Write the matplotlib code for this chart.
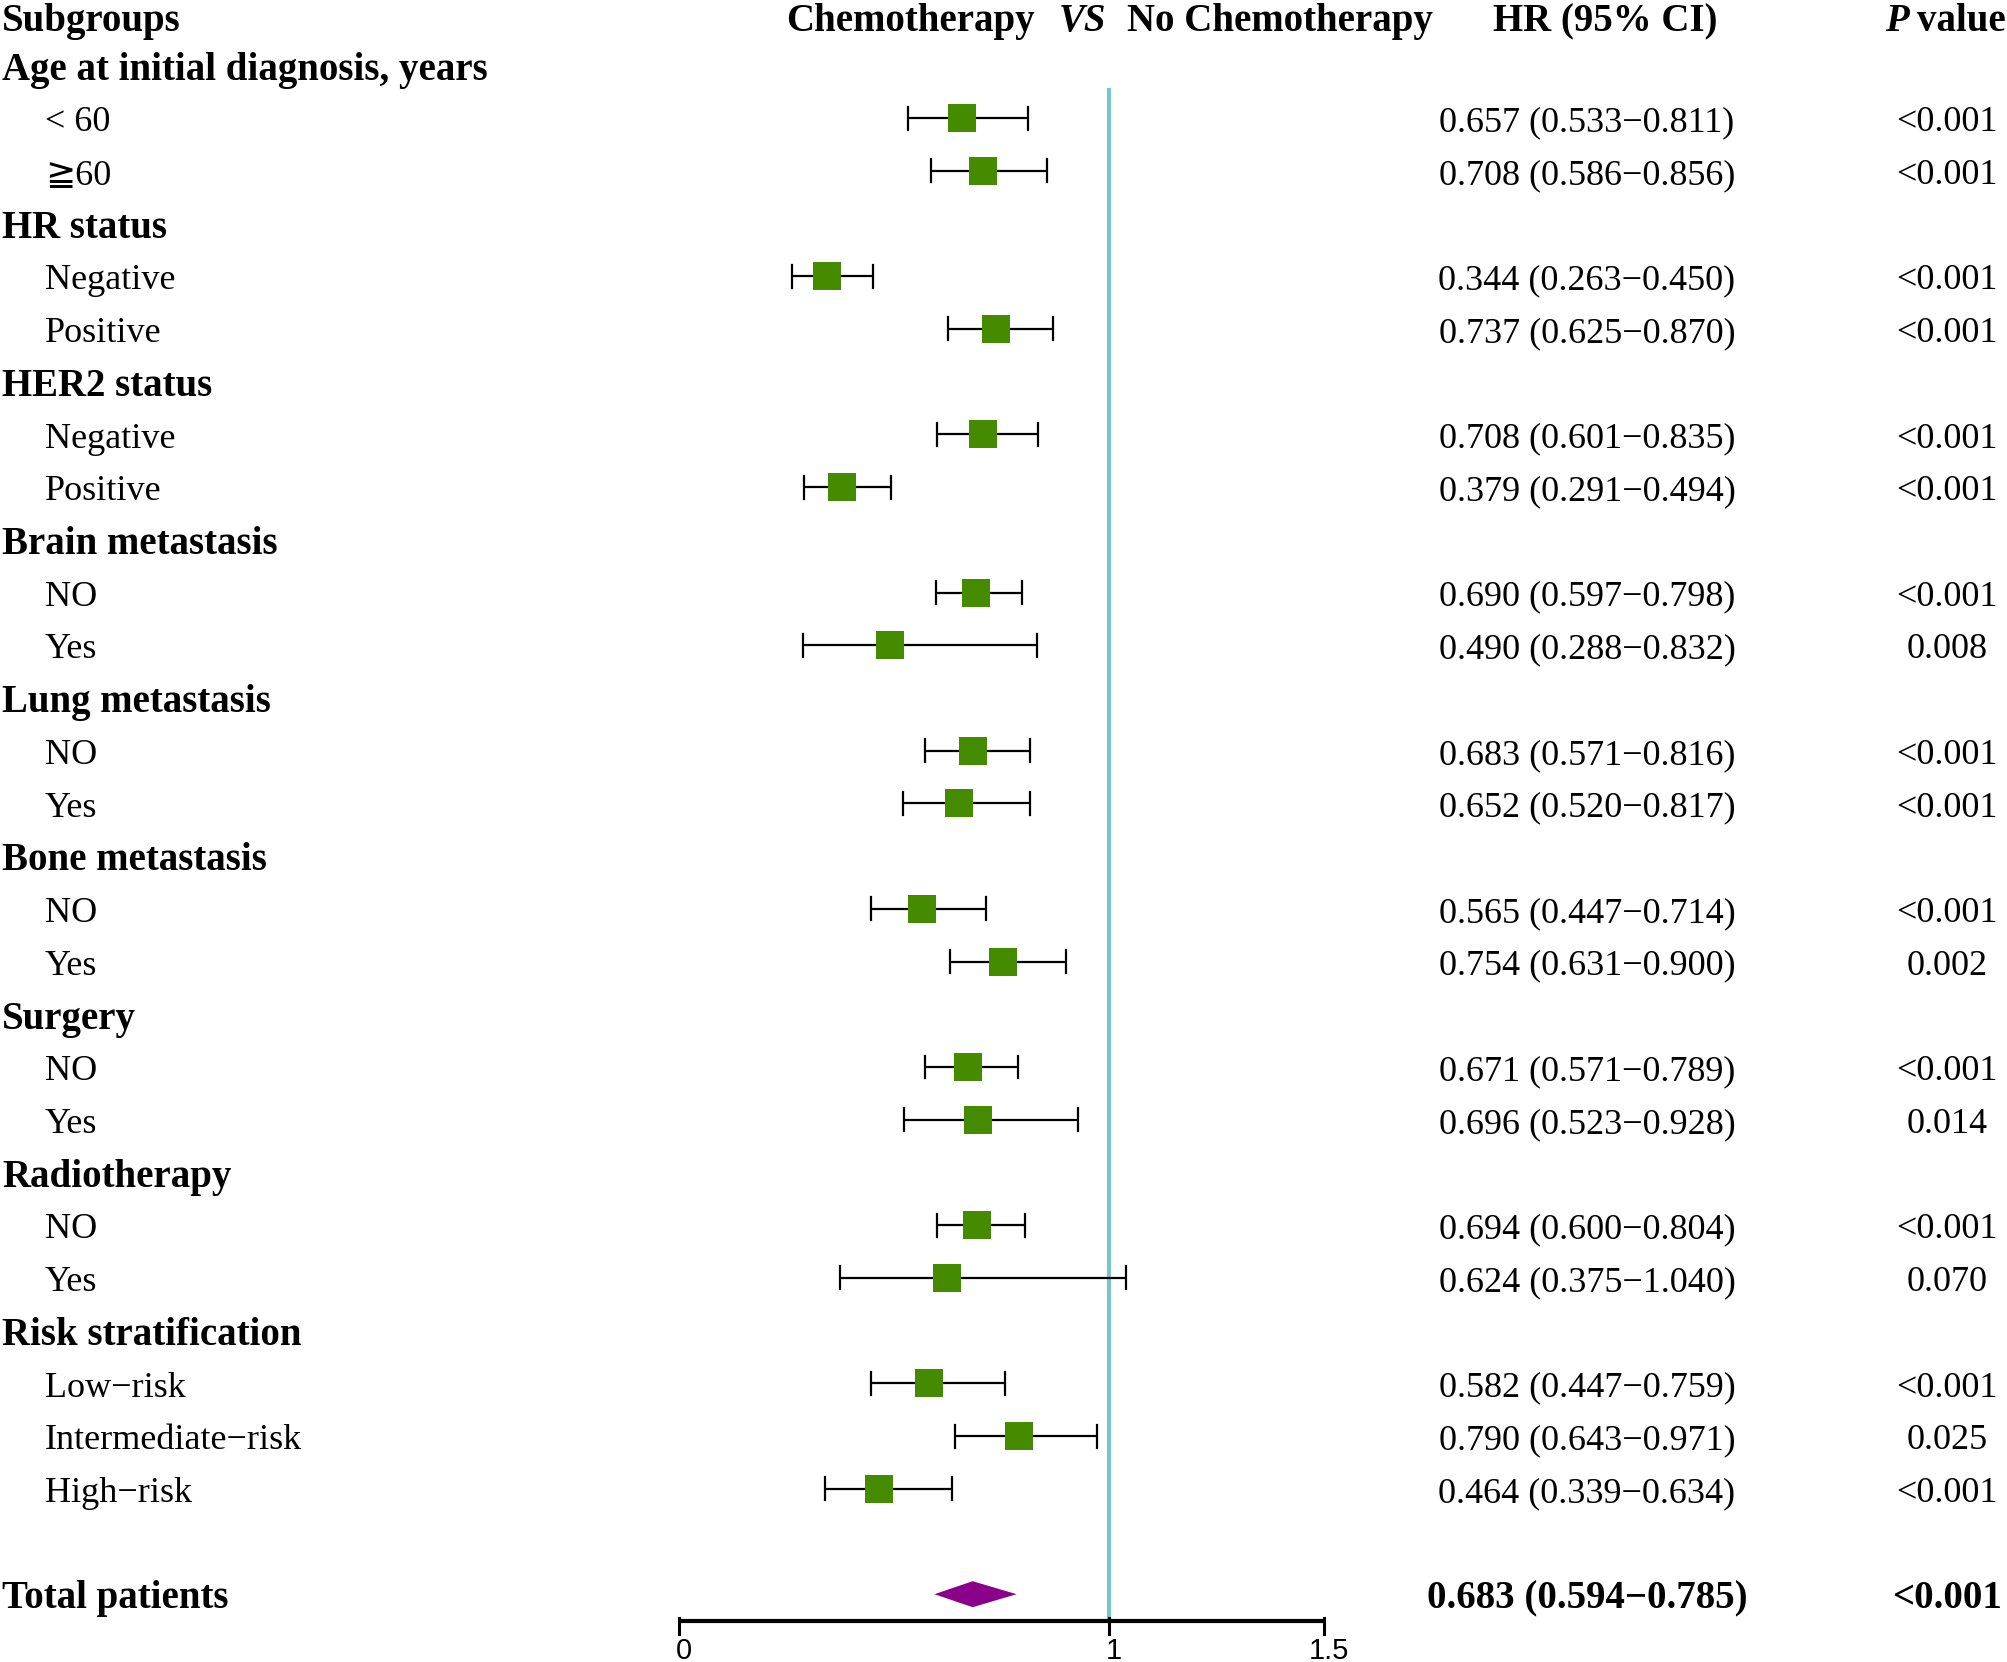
import numpy as np
import matplotlib
matplotlib.use('Agg')
import matplotlib.pyplot as plt
from matplotlib.patches import Rectangle, Polygon
from matplotlib.transforms import blended_transform_factory

# rows of the table, top to bottom (header excluded)
groups = ['Age at initial diagnosis, years', 'HR status', 'HER2 status',
          'Brain metastasis', 'Lung metastasis', 'Bone metastasis',
          'Surgery', 'Radiotherapy', 'Risk stratification']
subgroups = [['< 60', '\u226760'],
             ['Negative', 'Positive'],
             ['Negative', 'Positive'],
             ['NO', 'Yes'],
             ['NO', 'Yes'],
             ['NO', 'Yes'],
             ['NO', 'Yes'],
             ['NO', 'Yes'],
             ['Low\u2212risk', 'Intermediate\u2212risk', 'High\u2212risk']]

hr = [0.657, 0.708, 0.344, 0.737, 0.708, 0.379, 0.690, 0.490, 0.683, 0.652,
      0.565, 0.754, 0.671, 0.696, 0.694, 0.624, 0.582, 0.790, 0.464]
lo = [0.533, 0.586, 0.263, 0.625, 0.601, 0.291, 0.597, 0.288, 0.571, 0.520,
      0.447, 0.631, 0.571, 0.523, 0.600, 0.375, 0.447, 0.643, 0.339]
hi = [0.811, 0.856, 0.450, 0.870, 0.835, 0.494, 0.798, 0.832, 0.816, 0.817,
      0.714, 0.900, 0.789, 0.928, 0.804, 1.040, 0.759, 0.971, 0.634]
pvals = ['<0.001', '<0.001', '<0.001', '<0.001', '<0.001', '<0.001', '<0.001',
         '0.008', '<0.001', '<0.001', '<0.001', '0.002', '<0.001', '0.014',
         '<0.001', '0.070', '<0.001', '0.025', '<0.001']

total_hr, total_lo, total_hi = 0.683, 0.594, 0.785
total_p = '<0.001'
xticks = [0, 1, 1.5]

W, H = 2008, 1662
GREEN = '#458B00'
PURPLE = '#8B008B'
BLUE = '#7AC5CD'
SERIF = ['Liberation Serif', 'DejaVu Serif', 'DejaVu Sans']

fig = plt.figure(figsize=(W / 100, H / 100), dpi=100)
ax = fig.add_axes([0, 0, 1, 1])
# pixel geometry: x=0 at 679 px, 430 px per unit; row r at 12.6 + 52.72*r px
x0, xs = 679.0, 430.0
y0, ys = 12.6, 52.72
ax.set_xlim(-x0 / xs, (W - x0) / xs)
ax.set_ylim((H - y0) / ys, -y0 / ys)
ax.axis('off')

tr = blended_transform_factory(fig.transFigure, ax.transData)
TXT_SHIFT = 0.09


def put(xpx, row, s, **kw):
    kw.setdefault('family', SERIF)
    kw.setdefault('fontsize', 26)
    kw.setdefault('va', 'center')
    ax.text(xpx / W, row + TXT_SHIFT, s, transform=tr, **kw)


# header
hrow = 0.08
put(2, hrow, 'Subgroups', fontsize=28, weight='bold')
put(1035, hrow, 'Chemotherapy', fontsize=28, weight='bold', ha='right')
put(1082, hrow, 'VS', fontsize=28, weight='bold', style='italic', ha='center')
put(1127, hrow, 'No Chemotherapy', fontsize=28, weight='bold')
put(1605, hrow, 'HR (95% CI)', fontsize=28, weight='bold', ha='center')
put(1909, hrow, 'P', fontsize=28, weight='bold', style='italic', ha='right')
put(1917, hrow, 'value', fontsize=28, weight='bold')

box_w = 28 / xs
box_h = 28 / ys
cap = 11.5 / ys

row = 1
sub_rows = []
for g, subs in zip(groups, subgroups):
    put(2, row, g, fontsize=28, weight='bold')
    row += 1
    for s in subs:
        put(45, row, s)
        sub_rows.append(row)
        row += 1

for r, h, l, u, p in zip(sub_rows, hr, lo, hi, pvals):
    ax.plot([l, u], [r, r], color='black', lw=1.6, solid_capstyle='butt', zorder=2)
    ax.plot([l, l], [r - cap, r + cap], color='black', lw=1.6, zorder=2)
    ax.plot([u, u], [r - cap, r + cap], color='black', lw=1.6, zorder=2)
    ax.add_patch(Rectangle((h - box_w / 2, r - box_h / 2), box_w, box_h,
                           facecolor=GREEN, edgecolor='none', zorder=3))
    put(1587, r, '%.3f (%.3f\u2212%.3f)' % (h, l, u), ha='center')
    put(1947, r, p, ha='center')

# total row
tot_row = row + 1
put(2, tot_row, 'Total patients', fontsize=28, weight='bold')
dh = 13 / ys
ax.add_patch(Polygon([[total_lo, tot_row], [total_hr, tot_row - dh],
                      [total_hi, tot_row], [total_hr, tot_row + dh]],
                     closed=True, facecolor=PURPLE, edgecolor='none', zorder=3))
put(1587, tot_row, '%.3f (%.3f\u2212%.3f)' % (total_hr, total_lo, total_hi),
    fontsize=28, weight='bold', ha='center')
put(1947, tot_row, total_p, fontsize=28, weight='bold', ha='center')

# reference line and x axis
axis_row = tot_row + 0.51
ax.plot([1, 1], [1.46, axis_row], color=BLUE, lw=3, zorder=1)
ax.plot([xticks[0], xticks[-1]], [axis_row, axis_row], color='black', lw=3,
        solid_capstyle='butt', zorder=2)
for t in xticks:
    ax.plot([t, t], [axis_row - 0.05, axis_row + 0.25], color='black', lw=2.2, zorder=2)
    ax.text(t + 0.012, axis_row + 0.56, ('%g' % t), fontsize=21,
            family=['Liberation Sans', 'DejaVu Sans'], ha='center', va='center')

fig.savefig('out.png', dpi=100)
